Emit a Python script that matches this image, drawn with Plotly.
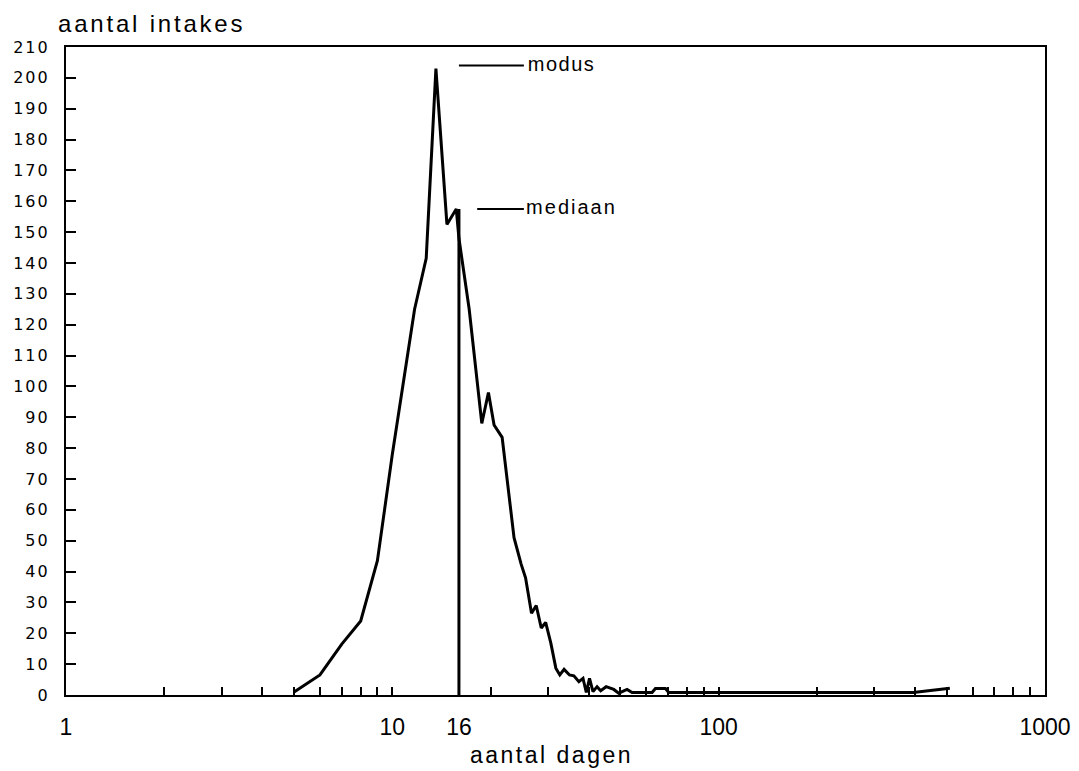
import plotly.graph_objects as go

# Data
days = [5.0, 6.0, 7.0, 8.0, 9.0, 10.0, 11.7, 12.7, 13.6, 14.7, 15.7, 16.0, 17.2,
        18.8, 19.7, 20.5, 21.7, 23.6, 24.8, 25.6, 26.7, 27.6, 28.6, 29.5, 30.6,
        31.7, 32.6, 33.6, 34.9, 36.0, 37.3, 38.4, 39.3, 40.2, 41.2, 42.4, 43.5,
        45.2, 47.7, 49.4, 52.4, 54.3, 62.5, 64.0, 68.7, 70.3, 395.0, 511.0]
counts = [1, 6.5, 16.5, 24, 43.5, 78, 125, 141.5, 203, 152.5, 157.5, 148, 125,
          88, 98, 87.5, 83.5, 51, 42.5, 38, 26.5, 29, 21.7, 23.5, 16.8,
          8.7, 6.5, 8.3, 6.5, 6.2, 4.3, 5.4, 0.8, 5.4, 1.1, 2.7, 1.4,
          2.7, 1.8, 0.6, 1.8, 0.8, 0.8, 2.1, 2.1, 0.8, 0.8, 2.2]

median_day = 16
median_count = 157.5
modus_count = 204

x_tickvals = [1, 10, 16, 100, 1000]
x_ticktext = ["1", "10", "16", "100", "1000"]
x_minor = [2, 3, 4, 5, 6, 7, 8, 9, 20, 30, 40, 50, 60, 70, 80, 90,
           200, 300, 400, 500, 600, 700, 800, 900]
y_tickvals = list(range(0, 211, 10))
y_ticktext = [str(v) for v in y_tickvals]

FONT = "Liberation Sans, Arial, sans-serif"
FONT_Y = "DejaVu Sans, sans-serif"


def spaced(s, px):
    return f'<span style="letter-spacing:{px}px">{s}</span>'


# page has an 8px body margin: figure is drawn at (8, 8)
W, H = 1071, 763
L, T = 58, 39
PW, PH = 979, 648
R, B = W - L - PW, H - T - PH

fig = go.Figure()

fig.add_trace(go.Scatter(x=days, y=counts, mode="lines",
                         line=dict(color="black", width=3), hoverinfo="skip"))
# median vertical line
fig.add_trace(go.Scatter(x=[median_day, median_day], y=[0, median_count], mode="lines",
                         line=dict(color="black", width=3), hoverinfo="skip"))
# label leader lines
fig.add_trace(go.Scatter(x=[16.0, 25.3], y=[modus_count, modus_count], mode="lines",
                         line=dict(color="black", width=2.2), hoverinfo="skip"))
fig.add_trace(go.Scatter(x=[18.2, 25.3], y=[median_count, median_count], mode="lines",
                         line=dict(color="black", width=1.8), hoverinfo="skip"))
fig.add_trace(go.Scatter(x=[26.0, 25.7], y=[modus_count, median_count], mode="text",
                         text=[spaced("modus", 1.5), spaced("mediaan", 2)],
                         textposition="middle right",
                         textfont=dict(family=FONT, size=20, color="black"),
                         hoverinfo="skip"))

fig.update_layout(
    width=W, height=H,
    margin=dict(l=L, r=R, t=T, b=B, pad=0),
    paper_bgcolor="white", plot_bgcolor="white",
    showlegend=False,
    font=dict(family=FONT, color="black"),
    xaxis=dict(
        type="log", range=[0, 3], automargin=False,
        tickvals=x_tickvals, ticktext=x_ticktext,
        ticks="inside", ticklen=8, tickwidth=1.5, tickcolor="black",
        minor=dict(tickvals=x_minor, ticks="inside", ticklen=8, tickwidth=1.5,
                   tickcolor="black", showgrid=False),
        showgrid=False, zeroline=False,
        showline=True, linecolor="black", linewidth=2.2, mirror=True,
        tickfont=dict(family=FONT, size=23, color="black"),
        ticklabelstandoff=10,
    ),
    yaxis=dict(
        range=[0, 210], automargin=False,
        tickvals=y_tickvals, ticktext=[spaced(t, 2) for t in y_ticktext],
        ticks="inside", ticklen=10, tickwidth=1.5, tickcolor="black",
        showgrid=False, zeroline=False,
        showline=True, linecolor="black", linewidth=2.2, mirror=True,
        tickfont=dict(family=FONT_Y, size=16, color="black"),
        ticklabelstandoff=11,
    ),
    annotations=[
        dict(text=spaced("aantal intakes", 2.8), xref="paper", yref="paper",
             x=(48 - L) / PW, y=(T + PH - 16) / PH, xanchor="left", yanchor="middle",
             showarrow=False, font=dict(family=FONT, size=24, color="black")),
        dict(text=spaced("aantal dagen", 2.5), xref="paper", yref="paper",
             x=(460 - L) / PW, y=(T + PH - 747) / PH, xanchor="left", yanchor="middle",
             showarrow=False, font=dict(family=FONT, size=23, color="black")),
    ],
)

fig.write_html("out.html")
